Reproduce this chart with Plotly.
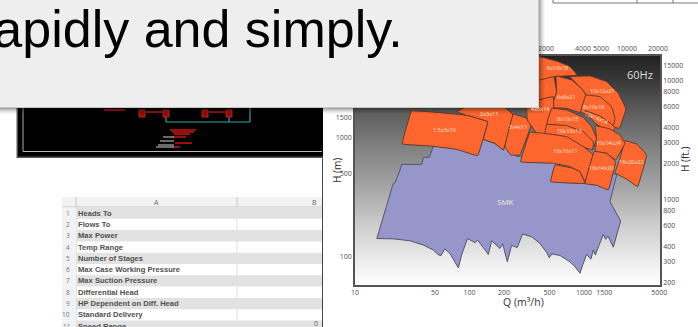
import math
import plotly.graph_objects as go

W, H = 698, 327
PLOT_L, PLOT_R, PLOT_T, PLOT_B = 355, 660, 55.7, 285
X_RANGE = [1, 3.664]
Y_RANGE = [1.7647, 3.6916]
Y_FT_RANGE = [2.2807, 4.2076]

# ---- axis ticks
Q_TICKS = [10, 50, 100, 200, 500, 1000, 1500, 4550]
Q_TEXT = ["10", "50", "100", "200", "500", "1000", "1500", "5000"]
Q_GRID = [20, 30, 40, 50, 60, 70, 80, 90, 100, 200, 300, 400, 500, 600, 700, 800, 900, 1000, 1500, 2000, 3000, 4000]
H_TICKS = [100, 500, 1000, 1500]
H_GRID = [100, 200, 300, 400, 500, 600, 700, 800, 900, 1000, 1500, 2000, 3000, 4000]
FT_TICKS = [13400, 10000, 8000, 6000, 4000, 3000, 2000, 1000, 800, 600, 400, 300, 200]
FT_TEXT = ["15000", "10000", "8000", "6000", "4000", "3000", "2000", "1000", "800", "600", "400", "300", "200"]
TOP_TICKS = [466, 980, 1406, 2375, 4430]
TOP_TEXT = ["2000", "4000", "5000", "10000", "20000"]

# ---- background gradient (gray level by plot height, bottom to top)
GRAD_POS = [0, 0.1, 0.25, 0.45, 0.6, 0.75, 0.9, 1]
GRAD_GRAY = [255, 238, 208, 160, 130, 95, 55, 35]

# ---- coverage envelopes: Q (m3/h), H (m)
SMK_Q = [15.5, 21.6, 30.2, 39.5, 48.3, 53.3, 56.3, 61, 67.5, 74.8, 80, 85.4, 96, 112, 117.7, 132, 146, 156, 184.6, 195, 214, 233, 261, 291, 349, 413, 472, 498, 523, 617, 755, 835, 923, 976, 1055, 1150, 1206, 1255, 1475, 1545, 1620, 1804, 2091, 1687, 1929, 807, 413, 258, 211, 197.5, 166, 132, 48.3, 44.6, 39.5, 38.3, 25.6, 24.7, 22.4, 21.6]
SMK_H = [143, 142, 137, 126, 114.5, 104.7, 102.6, 117, 107, 91, 81, 104, 143, 132, 139, 120, 105, 137, 118, 129, 91, 125, 120, 156, 148, 130, 109, 98.7, 106, 103, 91, 83, 73, 86, 105, 96, 114.5, 104, 155, 141, 150, 121, 201, 292, 490, 653, 743, 697, 930, 793, 902, 975, 846, 688, 688, 600, 600, 538, 422, 416]

S_1_5X3X10_Q = [31.2, 55.3, 94.5, 144, 117.8, 77.3, 45.2, 25.9]
S_1_5X3X10_H = [1686, 1633, 1550, 1370, 711, 803, 857, 892]
S_2X3X11_Q = [77.3, 108, 184.6, 241, 197.5, 166, 132, 144, 94.5]
S_2X3X11_H = [1665, 1956, 1956, 1561, 793, 902, 975, 1370, 1550]
S_3X4X11_Q = [241, 316, 349, 276, 229, 204]
S_3X4X11_H = [1590, 1464, 1328, 720, 720, 846]
S_4X6X14_Q = [316, 540, 540, 433, 320]
S_4X6X14_H = [1956, 2225, 1417, 945, 1417]
S_6X10X18_Q = [316, 413, 577, 755, 873, 540, 413, 316]
S_6X10X18_H = [5146, 4825, 4430, 3977, 3380, 3277, 3073, 3073]
S_MID_Q = [316, 540, 577, 522, 316]
S_MID_H = [3729, 3385, 2450, 1775, 1775]
S_6X8X21_Q = [570, 781, 954, 1040, 930, 706, 522, 577]
S_6X8X21_H = [3320, 3073, 2600, 2300, 1633, 1775, 1800, 2450]
S_10X12X21_Q = [755, 1128, 1578, 1995, 2328, 2035, 1630, 930, 1040, 954]
S_10X12X21_H = [3277, 3320, 2975, 2374, 1752, 1207, 1270, 1633, 2300, 2600]
S_8X10X18_Q = [1040, 1380, 1745, 1866, 1804, 937]
S_8X10X18_H = [2300, 2225, 1834, 1464, 1270, 1665]
S_10X14X14_Q = [1020, 1380, 1710, 1866, 1745, 1255]
S_10X14X14_H = [1700, 1530, 1328, 1220, 1094, 1328]
S_8X10X15_Q = [522, 706, 986, 1166, 1290, 1190, 472]
S_8X10X15_H = [1775, 1719, 1490, 1245, 990, 793, 1285]
S_10X10X13_Q = [472, 706, 986, 1206, 1190, 457]
S_10X10X13_H = [1300, 1270, 1129, 930, 793, 1094]
S_10X10X11_Q = [337, 457, 706, 986, 1206, 1020, 923, 755, 540, 280]
S_10X10X11_H = [1115, 1094, 1026, 846, 720, 430, 521, 574, 613, 632]
S_10X14X24_Q = [1255, 1687, 2063, 2280, 1890, 1578, 1255, 1290]
S_10X14X24_H = [1270, 1190, 1060, 902, 653, 743, 770, 990]
S_10X14X20_Q = [1230, 1578, 1890, 1634, 1290, 1020]
S_10X14X20_H = [770, 743, 633, 366, 401, 414]
S_LOW_Q = [558, 807, 923, 1020, 512]
S_LOW_H = [595, 556, 521, 416, 430]
S_16X20X22_Q = [2280, 2884, 3526, 2941, 2359, 1866, 2063]
S_16X20X22_H = [950, 890, 720, 390, 451, 510, 675]

# ---- text
SHAPE_LABELS = ["1.5x3x10", "2x3x11", "3x4x11", "4x6x14", "6x10x18", "6x8x21", "10x12x21", "8x10x18", "10x14x14", "8x10x15", "10x10x13", "10x10x11", "10x14x24", "10x14x20", "16x20x22", "SMK"]
LABEL_Q = [61.1, 148, 263, 413, 582, 702, 1455, 1222, 1280, 725, 745, 690, 1640, 1430, 2590, 205]
LABEL_H = [1167, 1592, 1245, 1742, 3850, 2225, 2480, 1834, 1480, 1450, 1145, 778, 902, 562, 633, 290]
LABEL_ANGLE = [0, 0, 0, 0, 0, 0, 0, 0, 22, 0, 0, 0, 0, 0, 0, 0]
TABLE_ROWS = ["Heads To", "Flows To", "Max Power", "Temp Range", "Number of Stages", "Max Case Working Pressure", "Max Suction Pressure", "Differential Head", "HP Dependent on Diff. Head", "Standard Delivery", "Speed Range"]
HEADLINE = "rapidly and simply."

ORANGE = "#fd662e"
EDGE = "#5e3a2c"
TICK = "#4a4a4a"
SANS = "Open Sans, Noto Sans, sans-serif"


def px(x):
    return x / W


def py(y):
    return 1 - y / H


def closed(v):
    return list(v) + [v[0]]


dom_x = [px(PLOT_L), px(PLOT_R)]
dom_y = [py(PLOT_B), py(PLOT_T)]

fig = go.Figure()
fig.add_trace(go.Heatmap(x=[0, 1], y=GRAD_POS, z=[[g, g] for g in GRAD_GRAY], zmin=0, zmax=255,
                         colorscale=[[0, "#000000"], [1, "#ffffff"]], showscale=False, zsmooth="best",
                         hoverinfo="skip", xaxis="x", yaxis="y"))


def poly(q, h, color=ORANGE, edge=EDGE, curved=True):
    style = dict(color=edge, width=1)
    if curved:
        style.update(shape="spline", smoothing=0.15)
    fig.add_trace(go.Scatter(x=closed(q), y=closed(h), mode="lines", fill="toself", fillcolor=color,
                             line=style, hoverinfo="skip", showlegend=False,
                             xaxis="x2", yaxis="y2"))


poly(SMK_Q, SMK_H, "#9696cb", "#55556a", curved=False)
for q, h in [(S_MID_Q, S_MID_H), (S_6X10X18_Q, S_6X10X18_H), (S_10X12X21_Q, S_10X12X21_H), (S_6X8X21_Q, S_6X8X21_H),
             (S_8X10X18_Q, S_8X10X18_H), (S_10X14X14_Q, S_10X14X14_H), (S_2X3X11_Q, S_2X3X11_H),
             (S_3X4X11_Q, S_3X4X11_H), (S_4X6X14_Q, S_4X6X14_H), (S_1_5X3X10_Q, S_1_5X3X10_H), (S_LOW_Q, S_LOW_H),
             (S_8X10X15_Q, S_8X10X15_H), (S_10X10X13_Q, S_10X10X13_H), (S_10X10X11_Q, S_10X10X11_H),
             (S_16X20X22_Q, S_16X20X22_H), (S_10X14X24_Q, S_10X14X24_H), (S_10X14X20_Q, S_10X14X20_H)]:
    poly(q, h)

# keeps the top and right scales on the page
fig.add_trace(go.Scatter(x=[100], y=[1000], mode="markers", marker=dict(opacity=0), hoverinfo="skip",
                         showlegend=False, xaxis="x3", yaxis="y3"))

shapes = []
annots = []


def rect(x0, y0, x1, y1, fill, line=None, width=0):
    shapes.append(dict(type="rect", xref="paper", yref="paper", x0=px(x0), x1=px(x1), y0=py(y0), y1=py(y1),
                       fillcolor=fill, line=dict(color=line or fill, width=width), layer="above"))


def seg(x0, y0, x1, y1, color, width=1):
    shapes.append(dict(type="line", xref="paper", yref="paper", x0=px(x0), x1=px(x1), y0=py(y0), y1=py(y1),
                       line=dict(color=color, width=width), layer="above"))


def text(x, y, s, size, color=TICK, xanchor="center", angle=0, family=SANS):
    annots.append(dict(xref="paper", yref="paper", x=px(x), y=py(y), text=s, showarrow=False, xanchor=xanchor,
                       yanchor="middle", textangle=angle, font=dict(size=size, color=color, family=family)))


# spreadsheet crop
rect(62, 197, 322, 207, "#f1f2f4")
seg(62, 207, 322, 207, "#c4c8cc")
seg(76, 197, 76, 327, "#c4c8cc")
seg(237, 197, 237, 207, "#c4c8cc")
text(156, 202, "A", 7, "#666666")
text(314, 202, "B", 7, "#666666")
ROW_H = 11.3
for i, name in enumerate(TABLE_ROWS):
    top = 207.5 + i * ROW_H
    bottom = min(top + ROW_H, 327)
    if i % 2 == 0:
        rect(76, top, 322, bottom, "#e2e2e2")
    else:
        seg(237, top, 237, bottom, "#dddddd")
    rect(62, top, 76, bottom, "#f1f2f4")
    text(72, top + ROW_H / 2, str(i + 1), 6.5, "#777777", xanchor="right")
    text(76, top + ROW_H / 2, "<b>" + name + "</b>", 7.6, "#505050", xanchor="left", family="Liberation Sans")
text(320, 323, "0", 7, "#666666", xanchor="right")
seg(322.5, 158, 322.5, 327, "#444444", 1)

# CAD drawing crop
rect(16.5, 100, 323, 158, "#555555")
rect(18, 100, 323, 156.5, "#000000")
seg(23, 100, 23, 151.5, "#aaaaaa", 1)
seg(23, 151.5, 322, 151.5, "#bbbbbb", 1)
for x0, y0, x1, y1 in [(166, 115, 166, 122), (166, 122, 250, 122), (250, 122, 250, 108), (229, 115, 229, 122)]:
    seg(x0, y0, x1, y1, "#2fa8a8", 1.2)
for cx in (142, 166, 205, 229):
    rect(cx - 3, 110, cx + 3, 117, "#8a1010", "#c02020", 1)
for x0, x1, y in [(104, 125, 110), (146, 162, 112), (209, 225, 112), (170, 196, 130), (172, 194, 132), (174, 190, 134),
                  (172, 186, 137), (175, 192, 143), (172, 180, 147)]:
    seg(x0, y, x1, y, "#d81818", 1.4)
for x0, x1, y in [(163, 174, 137), (160, 174, 141), (158, 174, 145), (156, 174, 147)]:
    seg(x0, y, x1, y, "#999999", 1.4)

# sheet corner at the top right
seg(553, 3, 698, 3, "#777777", 1)
for x in (553, 637, 673):
    seg(x, 0, x, 3, "#777777", 1)

# dialog with its shadow
for i, a in enumerate([0.34, 0.26, 0.18, 0.12, 0.07, 0.03]):
    rect(0, 108 + i, 539 + i + 1, 109 + i, "rgba(0,0,0,%s)" % a)
    rect(539 + i, 0, 540 + i, 108 + i, "rgba(0,0,0,%s)" % a)
rect(-5, -5, 539, 108, "#eeeeee")
seg(-5, 107.5, 539, 107.5, "#c6c6c6", 1)
seg(538.5, -5, 538.5, 108, "#cfcfcf", 1)
text(405, 29, HEADLINE, 52, "#000000", xanchor="right", family="Liberation Sans")

# chart words
for s, q, h, a in zip(SHAPE_LABELS, LABEL_Q, LABEL_H, LABEL_ANGLE):
    annots.append(dict(xref="x2", yref="y2", x=math.log10(q), y=math.log10(h), text=s,
                       showarrow=False, textangle=a,
                       font=dict(size=8 if s == "SMK" else 5.5, color="#ffe6d8", family=SANS)))
text(640, 75, "60Hz", 11, "#dddddd")
text(523, 302, "Q (m³/h)", 10.5, "#333333")
text(337, 171, "H (m)", 10, "#333333", angle=-90)
text(685, 160, "H (ft.)", 10, "#333333", angle=-90)

tickfont = dict(size=7, color=TICK, family=SANS)
line = dict(showline=True, linecolor="#555555", linewidth=1.5, automargin=False, tickangle=0)
GRID = "rgba(232,232,232,0.6)"
fig.update_layout(
    width=W, height=H, autosize=False, margin=dict(l=0, r=0, t=0, b=0), showlegend=False,
    paper_bgcolor="#ffffff", plot_bgcolor="#ffffff", shapes=shapes, annotations=annots,
    xaxis=dict(domain=dom_x, range=[0, 1], visible=False, automargin=False),
    yaxis=dict(domain=dom_y, range=[0, 1], visible=False, automargin=False),
    xaxis2=dict(domain=dom_x, overlaying="x", anchor="y2", type="log", range=X_RANGE, side="bottom",
                tickmode="array", tickvals=Q_TICKS, ticktext=Q_TEXT, ticks="", tickfont=tickfont, showgrid=True,
                gridcolor=GRID, gridwidth=1, zeroline=False,
                minor=dict(tickmode="array", tickvals=Q_GRID, showgrid=True, gridcolor=GRID, gridwidth=1, ticks=""),
                **line),
    yaxis2=dict(domain=dom_y, overlaying="y", anchor="x2", type="log", range=Y_RANGE, side="left",
                tickmode="array", tickvals=H_TICKS, ticktext=[str(v) for v in H_TICKS], ticks="", tickfont=tickfont,
                showgrid=True, gridcolor=GRID, gridwidth=1, zeroline=False,
                minor=dict(tickmode="array", tickvals=H_GRID, showgrid=True, gridcolor=GRID, gridwidth=1, ticks=""),
                **line),
    xaxis3=dict(domain=dom_x, overlaying="x", anchor="y3", type="log", range=X_RANGE, side="top", tickmode="array",
                tickvals=TOP_TICKS, ticktext=TOP_TEXT, ticks="", tickfont=tickfont, showgrid=False, zeroline=False, **line),
    yaxis3=dict(domain=dom_y, overlaying="y", anchor="x3", type="log", range=Y_FT_RANGE, side="right", tickmode="array",
                tickvals=FT_TICKS, ticktext=FT_TEXT, ticks="", tickfont=tickfont, showgrid=False, zeroline=False, **line),
)
fig.write_html("out.html", config={"displayModeBar": False},
               post_script="document.body.style.margin='0';document.body.style.overflow='hidden';")
